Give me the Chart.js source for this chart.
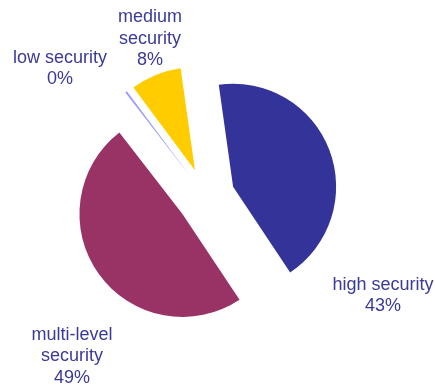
<!DOCTYPE html>
<html lang="en">
<head>
  <meta charset="UTF-8" />
  <title>Security levels</title>
  <script src="https://cdn.jsdelivr.net/npm/chart.js"></script>
  <style>
    html, body { margin: 0; padding: 0; background: #fff; }
    #wrap { width: 435px; height: 385px; }
  </style>
</head>
<body>
  <div id="wrap"><canvas id="pie"></canvas></div>

  <script>
    // slices in drawing order, clockwise from just left of 12 o'clock
    const categories = [['high security'], ['multi-level', 'security'], ['low security'], ['medium', 'security']];
    const shares = [43, 49, 0.3, 8];
    const sliceColors = ['#333399', '#993366', '#9999FF', '#FFCC00'];
    // where each label block sits (centre x, first line y)
    const labelSpots = [[383, 285], [72, 335], [60, 58], [150, 17.5]];

    const explode = 29;   // every slice pulled out the same distance
    const lineGap = 21.5;

    // push each arc outwards along its middle angle (Excel-style explosion)
    const explodePlugin = {
      id: 'explode',
      afterDatasetUpdate(chart, args) {
        args.meta.data.forEach(arc => {
          const mid = (arc.startAngle + arc.endAngle) / 2;
          arc.x += Math.cos(mid) * explode;
          arc.y += Math.sin(mid) * explode;
        });
      }
    };

    const labelPlugin = {
      id: 'sliceLabels',
      afterDraw(chart) {
        const ctx = chart.ctx;
        const vals = chart.data.datasets[0].data;
        const total = vals.reduce((a, b) => a + b, 0);
        ctx.save();
        ctx.font = '18px "Liberation Sans", Arial, sans-serif';
        ctx.fillStyle = '#3a3a98';
        ctx.textAlign = 'center';
        ctx.textBaseline = 'middle';
        chart.data.labels.forEach((lines, i) => {
          const [x, y] = labelSpots[i];
          const all = lines.concat([Math.round(vals[i] / total * 100) + '%']);
          all.forEach((t, k) => ctx.fillText(t, x, y + k * lineGap));
        });
        ctx.restore();
      }
    };

    new Chart(document.getElementById('pie'), {
      type: 'pie',
      data: {
        labels: categories,
        datasets: [{
          data: shares,
          backgroundColor: sliceColors,
          borderWidth: 0
        }]
      },
      options: {
        responsive: true,
        maintainAspectRatio: false,
        animation: false,
        events: [],
        rotation: -8,
        radius: 103,
        layout: { padding: { left: 0, right: 23, top: 9, bottom: 0 } },
        plugins: {
          legend: { display: false },
          tooltip: { enabled: false }
        }
      },
      plugins: [explodePlugin, labelPlugin]
    });
  </script>
</body>
</html>
